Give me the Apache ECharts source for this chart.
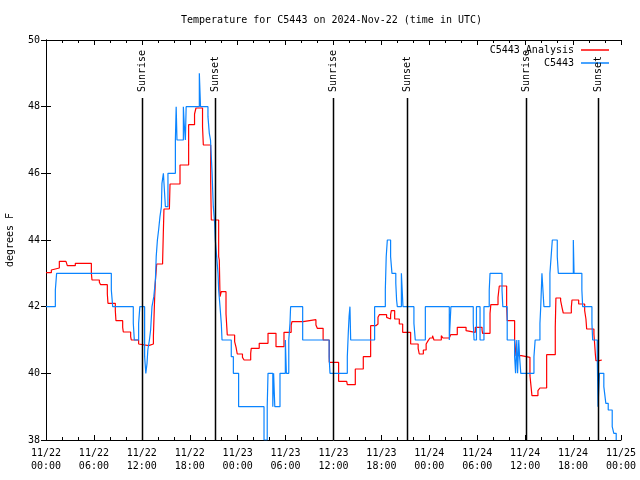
<!DOCTYPE html>
<html>
<head>
<meta charset="utf-8">
<script src="https://cdn.jsdelivr.net/npm/echarts@6/dist/echarts.min.js"></script>
<style>html,body{margin:0;padding:0;background:#fff}#c{width:640px;height:480px}</style>
</head>
<body>
<div id="c"></div>
<script>
// hours since 2024-11-22 00:00 UTC
const xTickLabels = ['11/22\n00:00','11/22\n06:00','11/22\n12:00','11/22\n18:00','11/23\n00:00','11/23\n06:00','11/23\n12:00','11/23\n18:00','11/24\n00:00','11/24\n06:00','11/24\n12:00','11/24\n18:00','11/25\n00:00'];
const yTickLabels = ['38','40','42','44','46','48','50'];

const blueTimes = [0,1.17,1.33,8.18,8.35,10.93,11.06,11.6,11.75,12.35,12.5,12.65,12.75,12.95,13.1,13.27,13.5,13.7,13.8,13.95,14.1,14.27,14.45,14.52,14.7,14.95,15.27,16.2,16.3,16.4,17.2,17.3,17.45,17.55,19.2,19.35,20.28,20.45,20.6,20.7,20.8,20.87,20.95,21.12,21.2,21.37,21.54,21.62,21.79,21.95,22.04,23.2,23.46,24.12,27.3,27.7,27.8,28.4,28.5,28.65,29.3,29.97,30.1,30.4,30.55,30.63,32.14,35.45,35.56,37.73,37.85,37.95,38.06,38.15,41.15,42.49,42.6,42.74,43.15,43.32,43.8,43.9,43.99,44.5,44.7,46.07,46.24,47.5,50.5,50.7,53.5,53.6,53.9,54.35,54.84,55.5,55.6,57.1,57.2,57.75,58.68,58.8,58.95,59.05,59.2,59.3,59.45,61.1,61.25,61.85,61.95,62.1,62.35,63.1,63.25,63.4,64.02,64.15,66.03,66.12,67.1,67.2,68.36,68.45,69.03,69.12,69.3,69.85,70.1,70.4,70.9,71.1,71.4];
const blueValues = [42,42.5,43,42.5,42,41.5,41,41.5,42,40.5,40,40.3,40.7,41,41.3,42,42.3,42.8,43.5,44,44.3,44.7,45,45.7,46,45,46,47,48,47,48,47.5,47,48,49,48,47.7,47.2,47,46.5,46,45.5,45,44.5,44,43.5,43,42.5,42,41.5,41,40.5,40,39,38,39,40,39,40,39,40,41,40,41,41.5,42,41,40.5,40,40.5,41.2,41.7,42,41,42,42.5,43.5,44,43.5,43,42.7,42.2,42,43,42,41.5,41,42,41,42,41.5,41,42,41,42,42.5,43,42.5,42,41,40.5,40,41,40,41,40.5,40,40.5,41,41.5,42,43,42,43,43.5,44,43.5,43,44,43,42.5,42,41.5,41,40.5,39,40,39.6,39.1,38.9,38.4,38.2,38];

const redTimes = [0,0.67,0.83,1.67,2.5,2.67,3.67,5.68,5.76,6.68,6.84,7.68,7.76,8.68,8.76,9.6,9.68,10.6,10.68,11.6,11.7,12.85,13.45,13.6,13.7,13.86,14.6,14.69,14.77,15.45,15.53,16.78,17.86,18.6,18.78,19.6,19.7,20.62,20.7,21.62,21.7,21.79,21.95,22.54,22.7,23.62,23.8,23.95,24.6,24.8,25.63,25.7,26.7,27.8,28.8,29.8,30.7,30.8,32.2,33.8,33.97,34.7,35.47,36.64,37.65,37.73,38.73,39.73,40.65,41.3,41.57,41.74,42.65,42.85,43.15,43.24,43.66,44.24,44.66,45.66,46.6,46.74,47.25,47.6,47.85,48.08,48.4,48.58,49.5,49.7,50.5,50.67,51.5,52.6,52.75,53.76,54.6,54.67,55.6,55.7,56.6,56.76,57.68,57.76,58.68,58.85,59.52,60.6,60.85,61.6,61.85,62.69,63.77,63.85,64.44,64.61,64.77,65.78,65.86,66.7,67.45,67.61,67.7,68.61,68.7,68.78,68.86,69.28,69.45,69.6];
const redValues = [43.02,43.1,43.16,43.36,43.3,43.23,43.3,43.0,42.8,42.73,42.66,42.38,42.1,41.88,41.58,41.38,41.24,41.1,41.0,40.88,40.83,40.88,41.13,42.23,42.78,43.28,43.35,44.2,44.93,44.97,45.68,46.25,47.46,47.78,47.96,47.4,46.85,45.75,44.6,43.5,43.4,42.3,42.45,41.78,41.15,40.95,40.78,40.58,40.48,40.4,40.6,40.75,40.9,41.2,40.8,41.23,41.45,41.55,41.61,41.45,41.35,41.0,40.33,39.76,39.7,39.66,40.13,40.5,41.43,41.48,41.68,41.76,41.68,41.63,41.76,41.88,41.63,41.48,41.23,40.88,40.75,40.58,40.7,40.88,40.98,41.06,41.13,41.0,41.13,41.06,41.08,41.16,41.38,41.28,41.23,41.38,41.3,41.2,41.8,42.06,42.28,42.62,42.0,41.58,41.0,40.53,40.48,39.93,39.33,39.48,39.56,40.56,41.4,42.26,42.18,41.98,41.81,41.98,42.2,42.08,41.88,41.63,41.33,41.18,40.88,40.6,40.38,40.33,40.4,40.38];

const sunTimes = [11.98, 21.2, 35.98, 45.24, 60.06, 69.16];
const sunLabels = ['Sunrise','Sunset','Sunrise','Sunset','Sunrise','Sunset'];

const FONT = '"DejaVu Sans Mono", "Liberation Mono", monospace';
const chart = echarts.init(document.getElementById('c'), null, {renderer: 'canvas'});

const baseX = {
  type: 'value', min: 0, max: 72, interval: 6,
  axisLine: {show: true, lineStyle: {color: '#000', width: 1}},
  axisTick: {show: true, inside: true, length: 5, lineStyle: {color: '#000'}},
  minorTick: {show: true, splitNumber: 3, length: 3, lineStyle: {color: '#000'}},
  splitLine: {show: false}, minorSplitLine: {show: false}
};
const baseY = {
  type: 'value', min: 38, max: 50, interval: 2,
  axisLine: {show: true, lineStyle: {color: '#000', width: 1}},
  axisTick: {show: true, inside: true, length: 5, lineStyle: {color: '#000'}},
  splitLine: {show: false}
};

chart.setOption({
  animation: false,
  backgroundColor: '#fff',
  title: {
    text: 'Temperature for C5443 on 2024-Nov-22 (time in UTC)',
    left: 181, top: 15, padding: 0,
    textStyle: {fontFamily: FONT, fontSize: 10, fontWeight: 'normal', color: '#000'}
  },
  legend: [
    {data: ['C5443 Analysis'], orient: 'vertical', right: 31, top: 45, padding: 0, align: 'right',
     itemWidth: 28, itemHeight: 1.5, icon: 'rect', itemGap: 0,
     textStyle: {fontFamily: FONT, fontSize: 10, color: '#000', padding: [0, 2, 0, 0]}},
    {data: ['C5443'], orient: 'vertical', right: 31, top: 58, padding: 0, align: 'right',
     itemWidth: 28, itemHeight: 1.5, icon: 'rect', itemGap: 0,
     textStyle: {fontFamily: FONT, fontSize: 10, color: '#000', padding: [0, 2, 0, 0]}}
  ],
  grid: {left: 46, right: 19, top: 40, bottom: 40, containLabel: false, outerBoundsMode: 'none'},
  xAxis: [
    Object.assign({}, baseX, {position: 'bottom',
      axisLabel: {show: true, margin: 7, color: '#000', fontFamily: FONT, fontSize: 10, lineHeight: 13,
        formatter: v => xTickLabels[Math.round(v / 6)] || ''}}),
    Object.assign({}, baseX, {position: 'top', axisLabel: {show: false}})
  ],
  yAxis: [
    Object.assign({}, baseY, {position: 'left', name: 'degrees F', nameLocation: 'middle', nameGap: 31,
      nameTextStyle: {fontFamily: FONT, fontSize: 10, color: '#000'},
      axisLabel: {show: true, margin: 6, color: '#000', fontFamily: FONT, fontSize: 10,
        formatter: v => yTickLabels[Math.round((v - 38) / 2)]}}),
    Object.assign({}, baseY, {position: 'right', axisLabel: {show: false}})
  ],
  series: [
    {
      name: 'sun', type: 'custom', xAxisIndex: 0, yAxisIndex: 0, silent: true, z: 5,
      data: sunTimes.map(t => [t, 38]),
      renderItem: function (params, api) {
        const t = api.value(0);
        const pb = api.coord([t, 38]);
        const pt = api.coord([t, 50]);
        const x = Math.round(pb[0]) + 0.5;
        return {
          type: 'group',
          children: [
            {type: 'line', shape: {x1: x, y1: pt[1] + 58, x2: x, y2: pb[1]},
             style: {stroke: '#000', lineWidth: 1.5}},
            {type: 'text', x: x, y: pt[1] + 52, rotation: Math.PI / 2,
             style: {text: sunLabels[params.dataIndex], x: 0, y: 0, fill: '#000',
                     font: '10px ' + FONT, align: 'left', verticalAlign: 'middle'}}
          ]
        };
      }
    },
    {
      name: 'C5443 Analysis', type: 'line', step: 'end', showSymbol: false, z: 3,
      color: '#ff0000', lineStyle: {color: '#ff0000', width: 1.2},
      data: redTimes.map((t, i) => [t, redValues[i]])
    },
    {
      name: 'C5443', type: 'line', step: 'end', showSymbol: false, z: 4,
      color: '#0a84ff', lineStyle: {color: '#0a84ff', width: 1.2},
      data: blueTimes.map((t, i) => [t, blueValues[i]])
    }
  ]
});
</script>
</body>
</html>
